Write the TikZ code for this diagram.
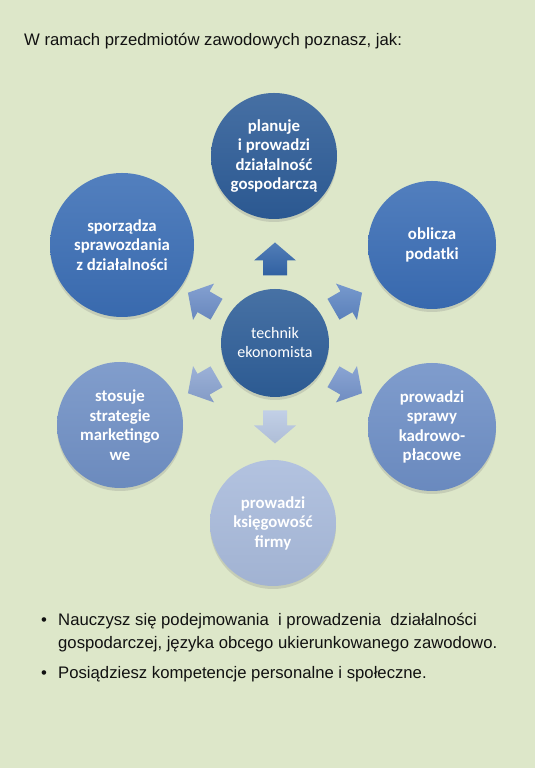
\documentclass[tikz,border=0pt]{standalone}
\usepackage{fontspec}
\setmainfont{Liberation Sans}
\newfontfamily\calfont{Carlito}
\usetikzlibrary{shadows,calc}
\definecolor{bgc}{HTML}{DDE7C9}
\definecolor{cA}{HTML}{2D5C97}
\definecolor{cB}{HTML}{3A6DB5}
\definecolor{cC}{HTML}{6E8FC6}
\definecolor{cD}{HTML}{A8BADB}
\definecolor{cE}{HTML}{7090C5}
\definecolor{cF}{HTML}{3B6EB5}
\definecolor{cM}{HTML}{2E5E98}
\definecolor{aA}{HTML}{3366AA}
\definecolor{aB}{HTML}{5F87C4}
\definecolor{aC}{HTML}{7594CB}
\definecolor{aD}{HTML}{B7C7E2}
\definecolor{aE}{HTML}{8AA3D0}
\definecolor{aF}{HTML}{6E8FC8}
\definecolor{txt}{HTML}{111111}
\tikzset{
  circ/.style={circle, inner sep=0pt, align=center, text=white,
    font=\calfont\bfseries\fontsize{16.8}{19.5}\selectfont,
    top color=#1!88!white, bottom color=#1!96!black,
    drop shadow={shadow xshift=0pt, shadow yshift=-3pt, opacity=0.25}},
  arrfill/.style={top color=#1!85!white, bottom color=#1!95!black},
  blockarr/.pic={
    \path[pic actions] (0,16.5) -- (-21,-1.5) -- (-12,-1.5) -- (-12,-16.5)
      -- (12,-16.5) -- (12,-1.5) -- (21,-1.5) -- cycle;},
  plain/.style={anchor=base west, inner sep=0pt, text=txt,
    font=\fontsize{16.7}{20}\selectfont}
}
\begin{document}
\begin{tikzpicture}[x=1pt,y=1pt]
\fill[bgc] (0,0) rectangle (535,768);
\useasboundingbox (0,0) rectangle (535,768);

\node[plain] (head) at (24,722) {W ramach przedmiotów zawodowych poznasz, jak:};

% centre
\node[circ=cM, minimum size=108, font=\calfont\fontsize{16}{19}\selectfont] (mid) at (275,425) {technik\\ekonomista};

% outer circles
\node[circ=cA, minimum size=126] (c1) at (274,612) {planuje\\i prowadzi\\działalność\\gospodarczą};
\node[circ=cB, minimum size=128] (c2) at (432,523) {oblicza\\podatki};
\node[circ=cC, minimum size=128] (c3) at (432,341) {prowadzi\\sprawy\\kadrowo-\\płacowe};
\node[circ=cD, minimum size=126] (c4) at (273,245) {prowadzi\\księgowość\\firmy};
\node[circ=cE, minimum size=126] (c5) at (120,343) {stosuje\\strategie\\marketingo\\we};
\node[circ=cF, minimum size=144] (c6) at (122,523) {sporządza\\sprawozdania\\z działalności};

% arrows
\path (mid.center) ++(90:84)  pic[rotate=0,    arrfill=aA] (a1) {blockarr};
\path (mid.center) ++(30:84)  pic[rotate=-60,  arrfill=aB] (a2) {blockarr};
\path (mid.center) ++(-30:84) pic[rotate=-120, arrfill=aC] (a3) {blockarr};
\path (mid.center) ++(-90:84) pic[rotate=180,  arrfill=aD] (a4) {blockarr};
\path (mid.center) ++(210:84) pic[rotate=120,  arrfill=aE] (a5) {blockarr};
\path (mid.center) ++(150:84) pic[rotate=60,   arrfill=aF] (a6) {blockarr};

% bullets
\node[plain] (d1) at (41,142) {•};
\node[plain] (b1) at (58,142) {Nauczysz się podejmowania \ i prowadzenia \ działalności};
\node[plain] (b1b) at (58,119) {gospodarczej, języka obcego ukierunkowanego zawodowo.};
\node[plain] (d2) at (41,89) {•};
\node[plain] (b2) at (58,89) {Posiądziesz kompetencje personalne i społeczne.};
\end{tikzpicture}
\end{document}
